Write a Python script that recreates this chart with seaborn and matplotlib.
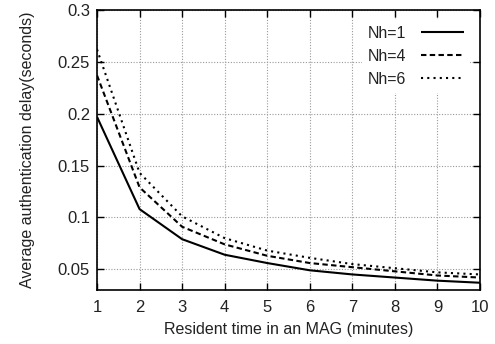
import matplotlib
matplotlib.use("Agg")
import matplotlib.pyplot as plt
import seaborn as sns
import pandas as pd

resident_time = [1, 2, 3, 4, 5, 6, 7, 8, 9, 10]
nh1 = [0.197, 0.108, 0.079, 0.064, 0.056, 0.049, 0.045, 0.042, 0.039, 0.037]
nh4 = [0.237, 0.129, 0.091, 0.074, 0.063, 0.056, 0.052, 0.048, 0.044, 0.042]
nh6 = [0.262, 0.143, 0.101, 0.080, 0.068, 0.061, 0.055, 0.051, 0.047, 0.045]
labels = ["Nh=1", "Nh=4", "Nh=6"]

sns.set_theme(style="ticks")
plt.rcParams['font.family'] = ['Liberation Sans', 'DejaVu Sans']

TXT = "#222222"
fig = plt.figure(figsize=(4.95, 3.44), dpi=100)
ax = fig.add_axes([97/495, 1 - 290/344, (480-97)/495, (290-10)/344])

styles = [(0, ()), (0, (2.6, 1.6)), (0, (1, 2.0))]
for vals, lab, ls in zip([nh1, nh4, nh6], labels, styles):
    df = pd.DataFrame({"x": resident_time, "y": vals})
    sns.lineplot(data=df, x="x", y="y", ax=ax, color="black", linewidth=1.5,
                 linestyle=ls, label=lab)

ax.set_xlim(1, 10)
ax.set_ylim(0.03, 0.3)
ax.set_xticks(resident_time)
ax.set_yticks([0.05, 0.1, 0.15, 0.2, 0.25, 0.3])
ax.set_yticklabels(["0.05", "0.1", "0.15", "0.2", "0.25", "0.3"])
ax.grid(True, color="#999999", linestyle=(0, (1, 1.5)), linewidth=0.8)
ax.tick_params(direction="in", top=True, right=True, length=5, width=1,
               labelsize=12, colors="black", labelcolor=TXT, pad=5)
ax.tick_params(axis="x", pad=7)
for s in ax.spines.values():
    s.set_color("black")
    s.set_linewidth(1.2)
ax.set_xlabel("Resident time in an MAG (minutes)", fontsize=11.5, labelpad=5, color=TXT)
ax.set_ylabel("Average authentication delay(seconds)", fontsize=11.5, labelpad=16, color=TXT)

leg = ax.legend(loc="upper right", markerfirst=False, frameon=True, fontsize=11.5,
                handlelength=2.7, borderaxespad=0.6, labelspacing=0.5,
                handletextpad=0.9)
leg.get_frame().set_edgecolor("none")
leg.get_frame().set_facecolor("white")
leg.get_frame().set_alpha(1)
for t in leg.get_texts():
    t.set_color(TXT)

fig.savefig("out.png", dpi=100)
